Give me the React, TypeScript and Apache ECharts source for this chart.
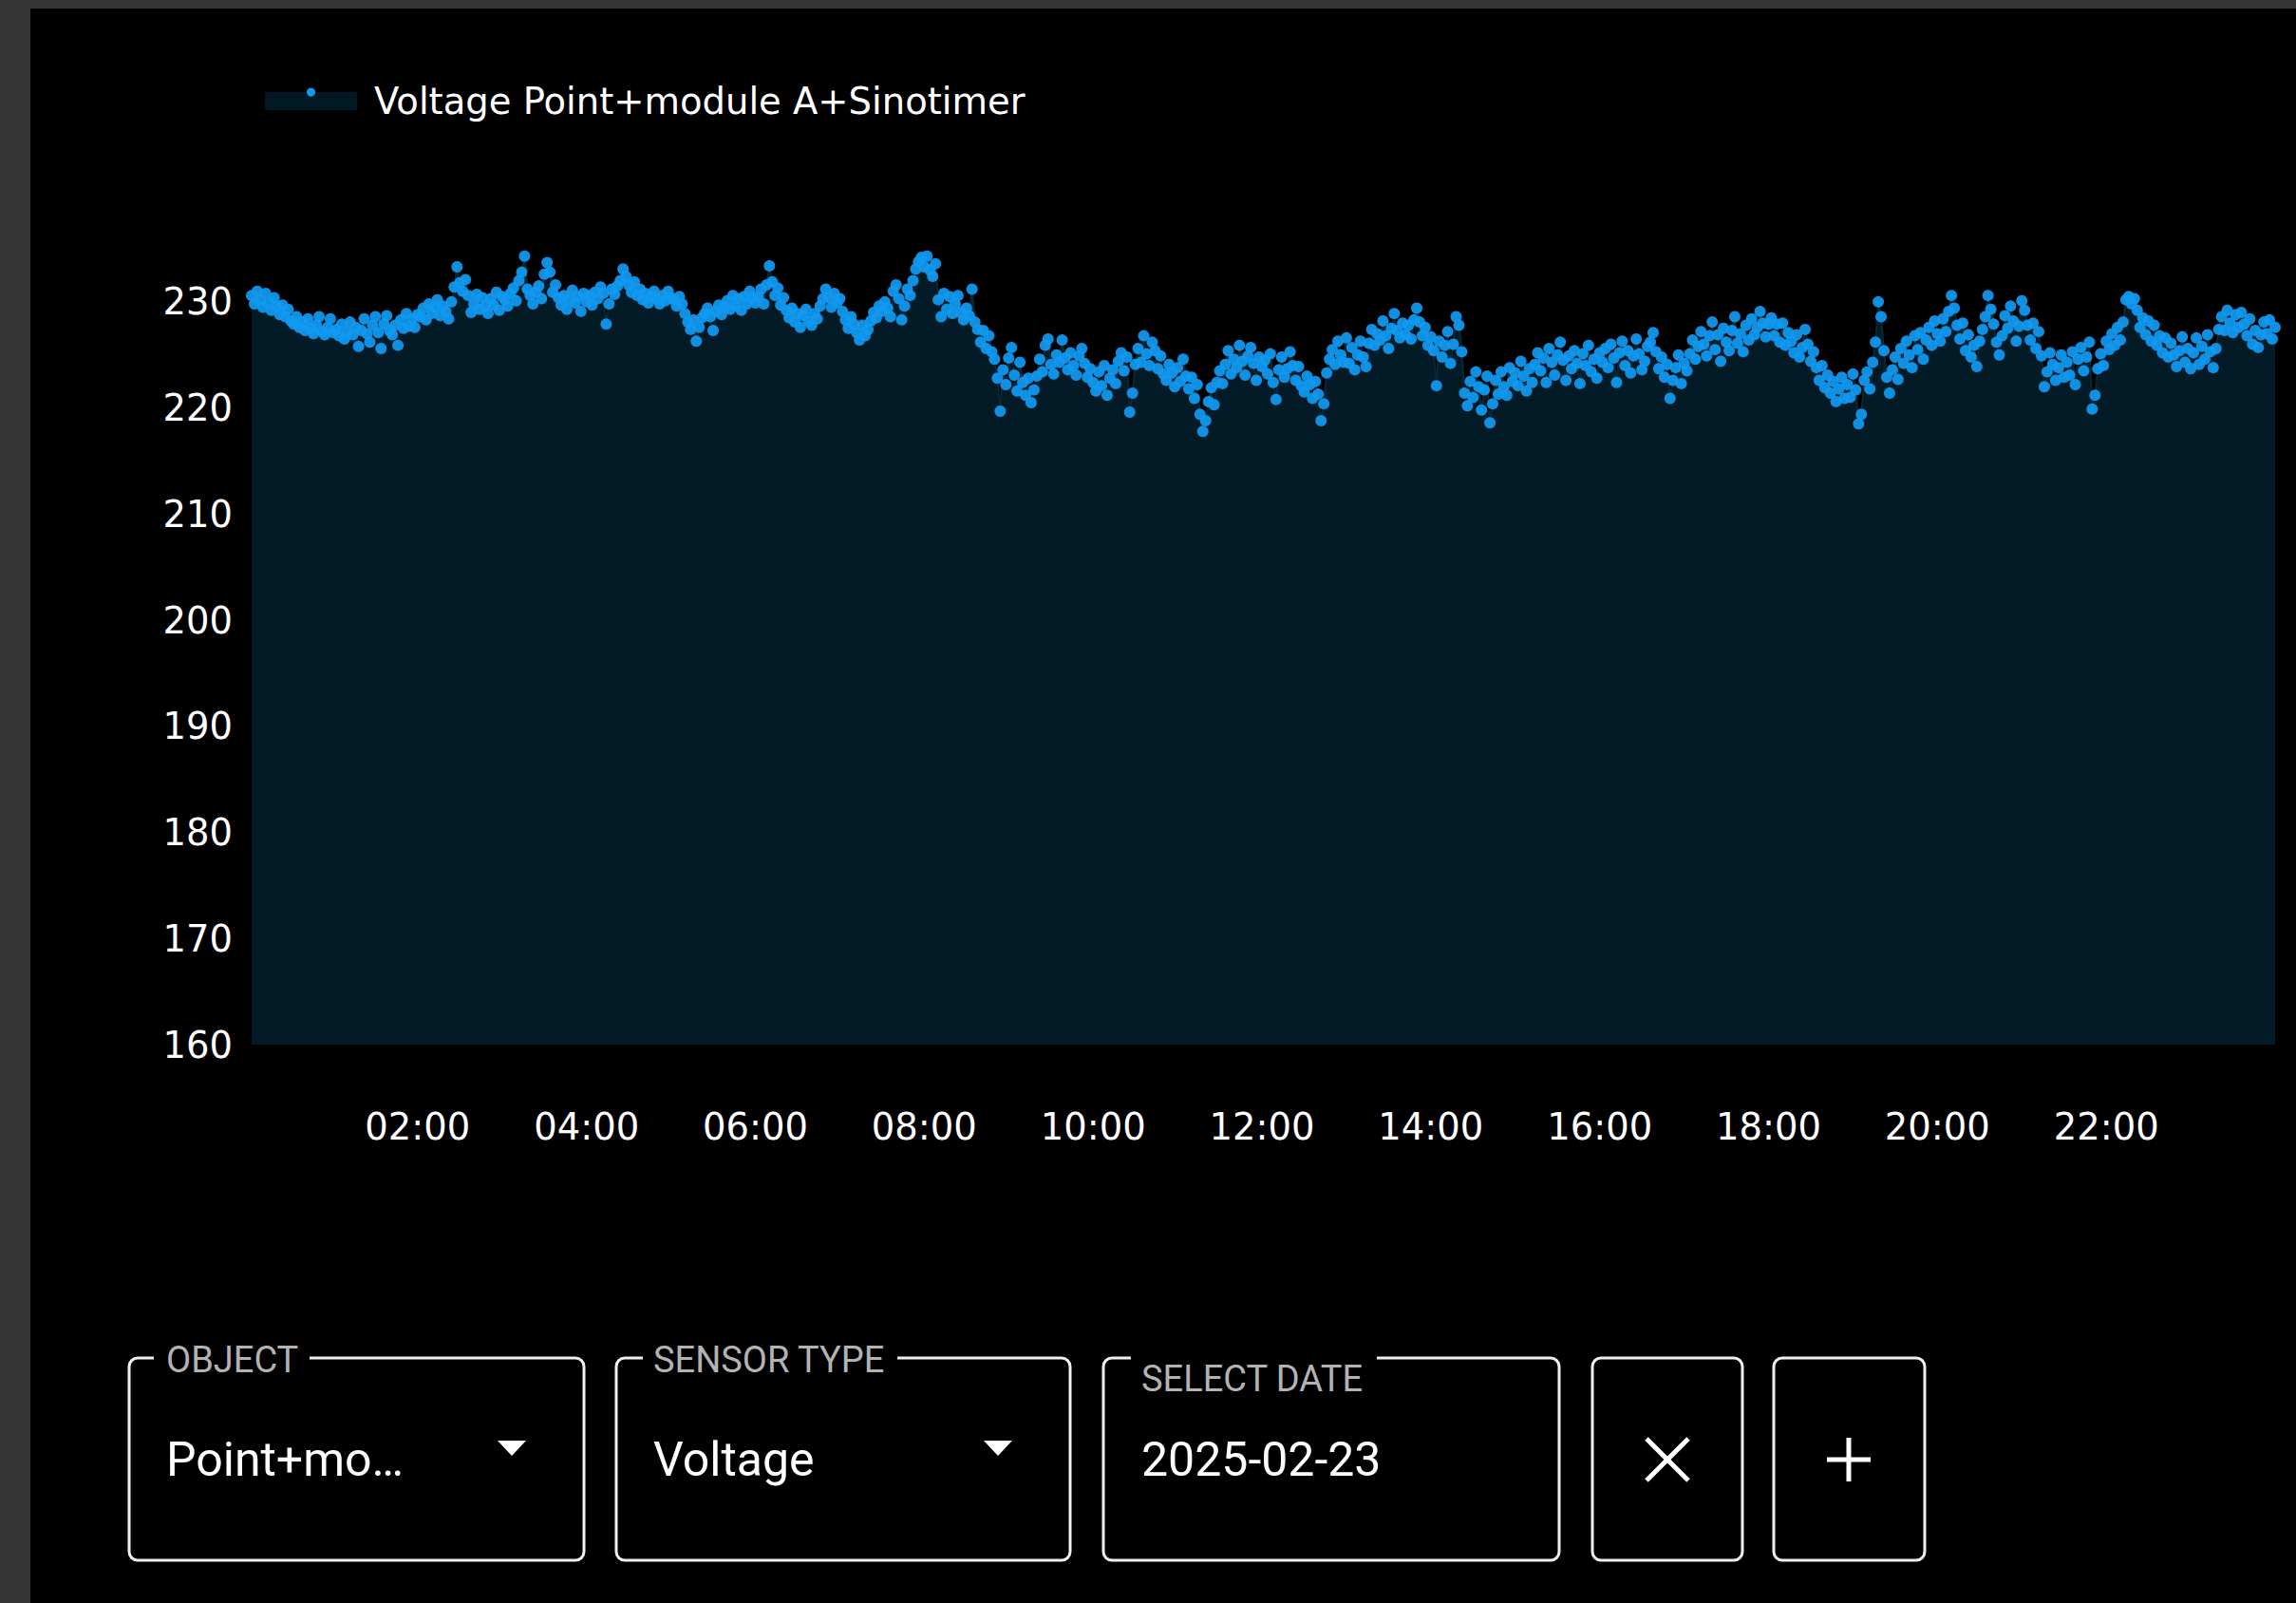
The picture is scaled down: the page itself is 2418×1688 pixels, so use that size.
import React, { useEffect, useRef } from "react";
import * as echarts from "echarts";

const SERIES_NAME = "Voltage Point+module A+Sinotimer";
const SAMPLE_MINUTES = 2;

// Voltage readings every 2 minutes on 2025-02-23 (00:02 .. 24:00)
const VOLT_00_06 = [
  230.6, 229.8, 231.0, 230.2, 229.5, 230.8, 229.9, 229.2, 230.4, 229.6, 228.8, 229.7, 228.6, 229.3, 228.2, 227.9, 228.6, 227.6, 228.1, 227.3, 228.4, 227.5, 227.0, 227.8, 228.6, 227.2, 226.9, 227.6, 228.4, 227.1,
  227.4, 226.8, 227.9, 226.5, 227.2, 228.1, 226.9, 227.6, 225.8, 227.3, 228.4, 227.0, 226.2, 227.8, 228.6, 227.1, 225.6, 227.9, 228.7, 227.3, 226.9, 227.8, 225.9, 228.3, 227.5, 228.9, 227.7, 228.4, 227.6, 228.8,
  228.6, 229.4, 228.3, 229.8, 228.9, 229.5, 230.2, 228.7, 229.6, 229.1, 228.4, 230.0, 231.4, 233.3, 231.8, 231.0, 232.1, 230.6, 229.0, 229.8, 230.7, 229.3, 230.4, 229.6, 228.9, 230.3, 229.7, 230.9, 229.2, 230.5,
  230.2, 229.6, 230.8, 231.3, 230.1, 232.0, 232.8, 234.3, 231.2, 230.6, 229.8, 230.9, 231.5, 230.3, 232.6, 233.7, 232.8, 230.9, 231.6, 230.4, 229.7, 230.6, 229.3, 230.2, 231.1, 229.9, 230.5, 229.1, 230.8, 230.0,
  230.6, 229.7, 230.9, 230.3, 231.4, 230.8, 227.9, 229.8, 231.2, 230.7, 231.5, 232.0, 233.1, 232.4, 231.6, 230.9, 231.9, 230.6, 231.2, 230.2, 230.8, 229.9, 230.5, 231.0, 230.3, 229.8, 230.6, 230.1, 231.0, 230.4,
  230.2, 229.6, 230.5, 229.8, 228.9, 228.1, 227.4, 228.3, 226.3, 227.6, 228.5, 228.9, 229.4, 228.6, 227.3, 229.1, 229.7, 228.8, 229.5, 230.1, 229.3, 230.6, 229.6, 230.3, 229.2, 230.5, 229.8, 231.0, 230.4, 229.9,
];
const VOLT_06_12 = [
  230.5, 231.2, 229.8, 231.6, 233.4, 231.9, 230.6, 231.3, 229.7, 230.4, 229.2, 228.5, 229.4, 228.1, 228.9, 227.6, 228.7, 229.3, 228.2, 227.8, 228.9, 228.4, 229.6, 230.3, 231.2, 230.4, 229.5, 230.8, 229.9, 230.3,
  229.1, 228.3, 227.5, 228.6, 227.9, 227.1, 226.4, 227.8, 226.8, 227.4, 228.2, 229.0, 228.5, 229.6, 229.1, 230.0, 229.4, 228.6, 231.0, 231.6, 230.3, 228.3, 229.6, 231.2, 230.6, 232.0, 233.1, 233.8, 234.2, 233.3,
  234.3, 233.0, 232.4, 233.6, 230.2, 228.6, 230.8, 229.3, 230.5, 228.9, 229.8, 230.6, 229.0, 228.3, 229.4, 228.7, 231.2, 228.1, 227.4, 226.2, 227.3, 225.6, 226.8, 225.3, 224.6, 222.8, 219.7, 223.6, 222.2, 224.7,
  225.7, 223.1, 221.6, 224.3, 222.4, 221.2, 222.8, 220.5, 221.7, 223.0, 224.6, 223.4, 225.9, 226.5, 224.1, 223.2, 225.0, 224.3, 226.4, 224.7, 223.6, 225.2, 224.0, 223.1, 224.9, 225.6, 224.2, 222.9, 223.7, 222.4,
  221.6, 223.4, 222.1, 224.0, 221.2, 222.8, 223.6, 222.3, 224.4, 225.2, 223.5, 224.8, 219.6, 221.4, 224.1, 225.6, 224.3, 226.8, 225.1, 224.0, 226.2, 225.4, 223.7, 224.9, 223.2, 222.6, 224.1, 223.3, 222.0, 223.8,
  222.5, 224.6, 223.0, 221.8, 222.9, 220.9, 222.2, 219.4, 217.8, 218.8, 220.6, 221.9, 220.3, 222.4, 223.5, 222.3, 224.1, 225.4, 223.2, 224.6, 223.8, 225.9, 224.4, 223.1, 224.9, 225.7, 224.2, 222.6, 224.8, 223.9,
];
const VOLT_12_18 = [
  224.5, 223.2, 225.1, 222.4, 220.8, 223.6, 224.8, 222.9, 223.7, 225.3, 224.0, 222.6, 223.9, 222.1, 221.5, 223.0, 222.2, 220.9, 222.5, 221.3, 218.8, 220.4, 223.3, 224.6, 225.5, 224.1, 226.3, 225.0, 224.3, 226.6,
  224.2, 225.7, 223.6, 225.0, 226.3, 224.8, 223.9, 226.1, 227.4, 225.9, 227.0, 226.4, 228.2, 226.8, 225.6, 227.5, 228.9, 227.3, 226.6, 228.0, 226.9, 227.8, 226.5, 228.3, 229.4, 228.1, 226.8, 227.6, 225.9, 226.7,
  225.4, 222.1, 226.3, 224.8, 225.9, 227.2, 224.2, 226.0, 228.6, 227.8, 225.3, 221.4, 220.2, 222.5, 221.0, 223.4, 222.0, 219.8, 221.7, 223.0, 218.6, 220.4, 222.6, 221.3, 223.4, 222.0, 221.2, 223.8, 222.5, 223.3,
  222.1, 224.4, 223.0, 221.6, 223.7, 222.4, 224.1, 225.2, 223.5, 224.7, 222.4, 225.6, 224.3, 223.1, 225.0, 226.2, 224.5, 222.6, 224.9, 223.7, 225.4, 224.2, 222.3, 225.1, 224.0, 225.9, 223.4, 224.6, 222.8, 225.2,
  224.3, 225.6, 223.8, 226.0, 224.7, 222.4, 225.2, 226.3, 224.0, 225.4, 223.3, 224.9, 226.5, 225.1, 223.6, 224.4, 225.8, 226.2, 227.1, 225.3, 223.7, 224.8, 222.9, 224.1, 220.9, 222.6, 223.8, 225.0, 222.3, 224.2,
  223.5, 225.1, 226.4, 224.6, 225.8, 227.2, 226.0, 224.9, 226.8, 228.1, 225.5, 226.9, 224.4, 227.5, 226.2, 225.4, 227.3, 228.6, 226.1, 227.0, 225.3, 227.8, 226.4, 228.4, 226.9, 227.6, 229.1, 228.0, 226.7, 227.9,
];
const VOLT_18_24 = [
  228.5, 226.8, 227.9, 226.2, 228.0, 225.9, 227.1, 226.3, 225.2, 226.9, 224.8, 225.7, 227.4, 226.0, 224.4, 225.3, 223.8, 222.6, 224.0, 221.9, 223.1, 221.4, 222.5, 220.6, 221.8, 222.9, 220.9, 222.2, 221.0, 223.2,
  221.7, 218.5, 219.4, 222.6, 223.4, 221.8, 224.3, 226.2, 230.0, 228.6, 225.4, 222.9, 221.4, 223.6, 224.8, 222.7, 225.6, 224.2, 226.3, 225.0, 223.8, 226.8, 225.5, 227.1, 224.6, 226.4, 227.6, 225.9, 228.2, 227.0,
  226.3, 228.4, 227.2, 229.1, 230.6, 229.4, 227.8, 226.5, 228.0, 225.4, 226.9, 224.8, 225.9, 223.9, 226.3, 227.4, 228.6, 230.6, 229.3, 227.9, 226.2, 225.0, 226.8, 228.7, 227.5, 229.6, 228.2, 226.3, 227.7, 230.1,
  229.2, 227.8, 226.4, 228.0, 225.6, 227.2, 224.9, 222.0, 223.4, 225.2, 224.1, 222.6, 223.8, 225.0, 222.9, 224.3, 223.1, 225.3, 222.2, 224.6, 225.7, 223.5, 224.8, 226.2, 219.9, 221.2, 223.7, 225.1, 224.0, 226.3,
  225.5, 227.0, 225.9, 227.6, 226.4, 228.1, 230.2, 230.5, 229.8, 230.3, 229.2, 227.6, 228.5, 226.9, 228.2, 226.3, 227.8, 225.9, 226.8, 225.2, 226.6, 224.8, 226.1, 225.0, 223.9, 225.4, 226.7, 224.3, 225.6, 223.7,
  225.2, 226.6, 224.1, 225.8, 224.6, 226.9, 225.3, 223.8, 225.6, 227.4, 228.6, 227.3, 229.2, 228.0, 227.1, 228.8, 227.6, 229.0, 227.9, 226.8, 228.4, 226.0, 227.3, 225.7, 226.9, 228.1, 227.0, 228.3, 226.5, 227.6,
];

const Y_MIN = 160;
const Y_MAX = 235;
const Y_STEP = 10;
const X_MIN = 0; // minutes of the day
const X_MAX = 1440;
const X_STEP = 120;

const CONTROL_LABELS = ["OBJECT", "SENSOR TYPE", "SELECT DATE"];
const CONTROL_VALUES = ["Point+mo…", "Voltage", "2025-02-23"];

const pad = (n: number) => (n < 10 ? "0" + n : "" + n);

export default function App() {
  const ref = useRef<HTMLDivElement>(null);

  useEffect(() => {
    const chart = echarts.init(ref.current!, null, { renderer: "svg" });
    const volts = [...VOLT_00_06, ...VOLT_06_12, ...VOLT_12_18, ...VOLT_18_24];
    const data = volts.map((v, i) => [(i + 1) * SAMPLE_MINUTES, v]);

    const AXIS_FONT = { color: "#ffffff", fontSize: 38.5, fontFamily: "DejaVu Sans" };
    const BORDER = "#f0f0f0";
    const LABEL_GREY = "#b3b3b3";
    const UI_FONT = "Roboto";

    const box = (x: number, y: number, w: number, h: number) => ({
      type: "rect",
      silent: true,
      shape: { x, y, width: w, height: h, r: 9 },
      style: { fill: "none", stroke: BORDER, lineWidth: 3 },
    });
    const gap = (x1: number, x2: number, y: number) => ({
      type: "rect",
      silent: true,
      shape: { x: x1, y: y - 5, width: x2 - x1, height: 10 },
      style: { fill: "#000000" },
    });
    const text = (x: number, y: number, t: string, size: number, fill: string) => ({
      type: "text",
      silent: true,
      x,
      y,
      style: { text: t, fill, fontSize: size, fontFamily: UI_FONT, align: "left", verticalAlign: "middle" },
    });
    const tri = (x: number) => ({
      type: "polygon",
      silent: true,
      shape: { points: [[x, 1517], [x + 30, 1517], [x + 15, 1533]] },
      style: { fill: "#ffffff" },
    });
    const seg = (x1: number, y1: number, x2: number, y2: number) => ({
      type: "line",
      silent: true,
      shape: { x1, y1, x2, y2 },
      style: { stroke: "#ffffff", lineWidth: 5 },
    });

    const graphic: any[] = [
      // screenshot frame edges
      { type: "rect", silent: true, shape: { x: 0, y: 0, width: 2418, height: 9 }, style: { fill: "#353535" } },
      { type: "rect", silent: true, shape: { x: 0, y: 0, width: 32, height: 1688 }, style: { fill: "#353535" } },
      // legend symbol dot
      { type: "circle", silent: true, shape: { cx: 327.5, cy: 97, r: 4.5 }, style: { fill: "#119af2" }, z: 100 },
      // OBJECT select
      box(136, 1430, 479, 213),
      gap(162, 326, 1430),
      text(175, 1432, CONTROL_LABELS[0], 38, LABEL_GREY),
      text(175, 1537, CONTROL_VALUES[0], 50, "#ffffff"),
      tri(524),
      // SENSOR TYPE select
      box(649, 1430, 478, 213),
      gap(677, 945, 1430),
      text(688, 1432, CONTROL_LABELS[1], 38, LABEL_GREY),
      text(688, 1537, CONTROL_VALUES[1], 50, "#ffffff"),
      tri(1036),
      // SELECT DATE field
      box(1162, 1430, 480, 213),
      gap(1191, 1450, 1430),
      text(1202, 1452, CONTROL_LABELS[2], 38, LABEL_GREY),
      text(1202, 1537, CONTROL_VALUES[2], 50, "#ffffff"),
      // clear button
      box(1677, 1430, 158, 213),
      seg(1734, 1515, 1778, 1559),
      seg(1778, 1515, 1734, 1559),
      // add button
      box(1868, 1430, 159, 213),
      seg(1924, 1537, 1970, 1537),
      seg(1947, 1514, 1947, 1560),
    ];

    const option: any = {
      animation: false,
      backgroundColor: "#000000",
      legend: {
        data: [SERIES_NAME],
        left: 274,
        top: 82,
        icon: "rect",
        itemWidth: 97,
        itemHeight: 19,
        itemStyle: { color: "#021b27" },
        textStyle: { ...AXIS_FONT, padding: [0, 0, 0, 13] },
      },
      grid: { left: 262, right: 22, top: 262, bottom: 588, containLabel: false },
      xAxis: {
        type: "value",
        min: X_MIN,
        max: X_MAX,
        interval: X_STEP,
        axisLine: { show: false },
        axisTick: { show: false },
        splitLine: { show: false },
        axisLabel: {
          ...AXIS_FONT,
          margin: 67,
          showMinLabel: false,
          showMaxLabel: false,
          formatter: (v: number) => pad(Math.floor(v / 60)) + ":" + pad(v % 60),
        },
      },
      yAxis: {
        type: "value",
        min: Y_MIN,
        max: Y_MAX,
        interval: Y_STEP,
        axisLine: { show: false },
        axisTick: { show: false },
        splitLine: { show: false },
        axisLabel: { ...AXIS_FONT, margin: 17, showMaxLabel: false },
      },
      series: [
        {
          name: SERIES_NAME,
          type: "line",
          data,
          symbol: "circle",
          symbolSize: 12,
          showSymbol: true,
          showAllSymbol: true,
          itemStyle: { color: "#119af2", opacity: 0.92 },
          lineStyle: { color: "#0a2735", width: 2 },
          areaStyle: { color: "#021b27", opacity: 1, origin: "start" },
        },
      ],
      graphic,
    };

    chart.setOption(option);
    return () => chart.dispose();
  }, []);

  return (
    <div
      ref={ref}
      style={{ position: "fixed", left: 0, top: 0, width: 2418, height: 1688, background: "#000000" }}
    />
  );
}
